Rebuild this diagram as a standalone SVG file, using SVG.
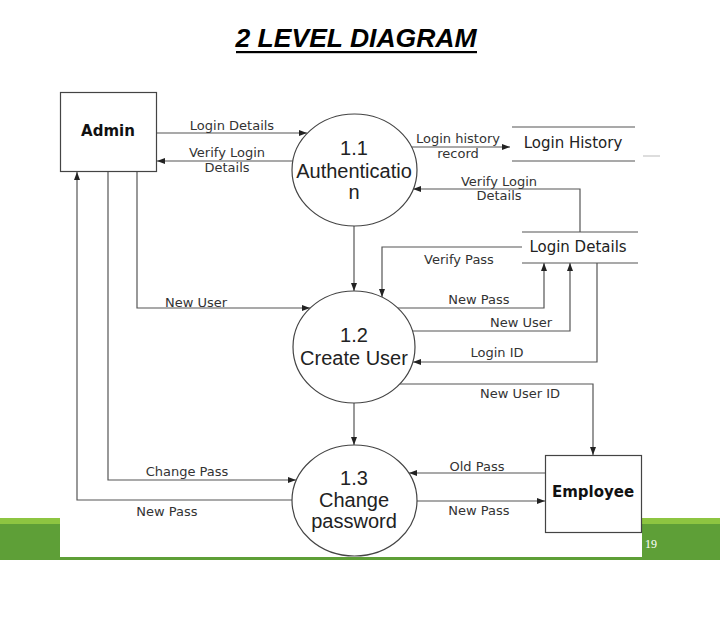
<svg xmlns="http://www.w3.org/2000/svg" width="720" height="631" viewBox="0 0 720 631">
<style>
.lbl{font-family:"DejaVu Sans",Verdana,sans-serif;font-size:13px;fill:#333;text-anchor:middle}
.proc{font-family:"Liberation Sans",Arial,sans-serif;font-size:20px;fill:#222;text-anchor:middle}
.ent{font-family:"DejaVu Sans",Verdana,sans-serif;font-size:15px;font-weight:bold;fill:#111;text-anchor:middle}
.store{font-family:"DejaVu Sans",Verdana,sans-serif;font-size:15px;fill:#222;text-anchor:middle}
.shape{fill:#fff;stroke:#444;stroke-width:1.2}
.ln{fill:none;stroke:#555;stroke-width:1.2}
.arr{fill:none;stroke:#555;stroke-width:1.2;marker-end:url(#ah)}
</style>
<defs>
<marker id="ah" viewBox="0 0 8 6" refX="8" refY="3" markerWidth="8" markerHeight="6" markerUnits="userSpaceOnUse" orient="auto">
<path d="M0,0 L8,3 L0,6 z" fill="#222"/>
</marker>
</defs>
<rect width="720" height="631" fill="#fff"/>
<g id="band">
<rect x="0" y="518" width="720" height="7" fill="#8dc541"/>
<rect x="0" y="524" width="720" height="36" fill="#5e9f37"/>
<rect x="60" y="517" width="582" height="40" fill="#fff"/>
<text x="645" y="548" font-family="Liberation Serif,serif" font-size="12" fill="#fff">19</text>
</g>
<g id="title">
<text x="356" y="47" font-family="Liberation Sans,Arial,sans-serif" font-size="26.5" font-weight="bold" font-style="italic" fill="#000" text-anchor="middle">2 LEVEL DIAGRAM</text>
<rect x="236" y="51" width="241" height="2.2" fill="#000"/>
</g>
<g id="connectors">
<line class="arr" x1="157" y1="133" x2="307" y2="133"/>
<line class="arr" x1="293" y1="161" x2="157" y2="161"/>
<line class="arr" x1="412" y1="147" x2="510" y2="147"/>
<polyline class="arr" points="580,232 580,189 413,189"/>
<polyline class="arr" points="522,247 382,247 382,297"/>
<line class="arr" x1="354" y1="226" x2="354" y2="291"/>
<polyline class="arr" points="137,172 137,308 310,308"/>
<polyline class="arr" points="398,308 544,308 544,263"/>
<polyline class="arr" points="412,331 570,331 570,263"/>
<polyline class="arr" points="597,263 597,362 413,362"/>
<polyline class="arr" points="400,384 593,384 593,455"/>
<line class="arr" x1="354" y1="403" x2="354" y2="445"/>
<polyline class="arr" points="108,172 108,480 296,480"/>
<polyline class="arr" points="292,500 77,500 77,172"/>
<line class="arr" x1="545" y1="473" x2="409" y2="473"/>
<line class="arr" x1="417" y1="501" x2="545" y2="501"/>
<line x1="643" y1="156" x2="660" y2="156" stroke="#bbb" stroke-width="1"/>
<text class="lbl" x="232" y="130">Login Details</text>
<text class="lbl" x="227" y="157">Verify Login</text>
<text class="lbl" x="227" y="172">Details</text>
<text class="lbl" x="458" y="143">Login history</text>
<text class="lbl" x="458" y="158">record</text>
<text class="lbl" x="499" y="186">Verify Login</text>
<text class="lbl" x="499" y="200">Details</text>
<text class="lbl" x="459" y="264">Verify Pass</text>
<text class="lbl" x="196" y="307">New User</text>
<text class="lbl" x="479" y="304">New Pass</text>
<text class="lbl" x="521" y="327">New User</text>
<text class="lbl" x="497" y="357">Login ID</text>
<text class="lbl" x="520" y="398">New User ID</text>
<text class="lbl" x="187" y="476">Change Pass</text>
<text class="lbl" x="167" y="516">New Pass</text>
<text class="lbl" x="477" y="471">Old Pass</text>
<text class="lbl" x="479" y="515">New Pass</text>
</g>
<g id="admin">
<rect class="shape" x="60.5" y="92.5" width="96" height="79"/>
<text class="ent" x="108" y="136">Admin</text>
</g>
<g id="employee">
<rect class="shape" x="545.5" y="455.5" width="96" height="77"/>
<text class="ent" x="593" y="497">Employee</text>
</g>
<g id="p1_1">
<ellipse class="shape" cx="354.5" cy="170" rx="62.5" ry="56"/>
<text class="proc" x="354" y="155">1.1</text>
<text class="proc" x="354" y="178">Authenticatio</text>
<text class="proc" x="354" y="199">n</text>
</g>
<g id="p1_2">
<ellipse class="shape" cx="354" cy="347" rx="61" ry="56"/>
<text class="proc" x="354" y="342">1.2</text>
<text class="proc" x="354" y="365">Create User</text>
</g>
<g id="p1_3">
<ellipse class="shape" cx="354.5" cy="500.5" rx="62.5" ry="55.5"/>
<text class="proc" x="354" y="485">1.3</text>
<text class="proc" x="354" y="507">Change</text>
<text class="proc" x="354" y="528">password</text>
</g>
<g id="login_history">
<line class="ln" x1="512" y1="127" x2="635" y2="127"/>
<line class="ln" x1="512" y1="161" x2="635" y2="161"/>
<text class="store" x="573" y="148">Login History</text>
</g>
<g id="login_details">
<line class="ln" x1="522" y1="232" x2="638" y2="232"/>
<line class="ln" x1="522" y1="263" x2="638" y2="263"/>
<text class="store" x="578" y="252">Login Details</text>
</g>
</svg>
